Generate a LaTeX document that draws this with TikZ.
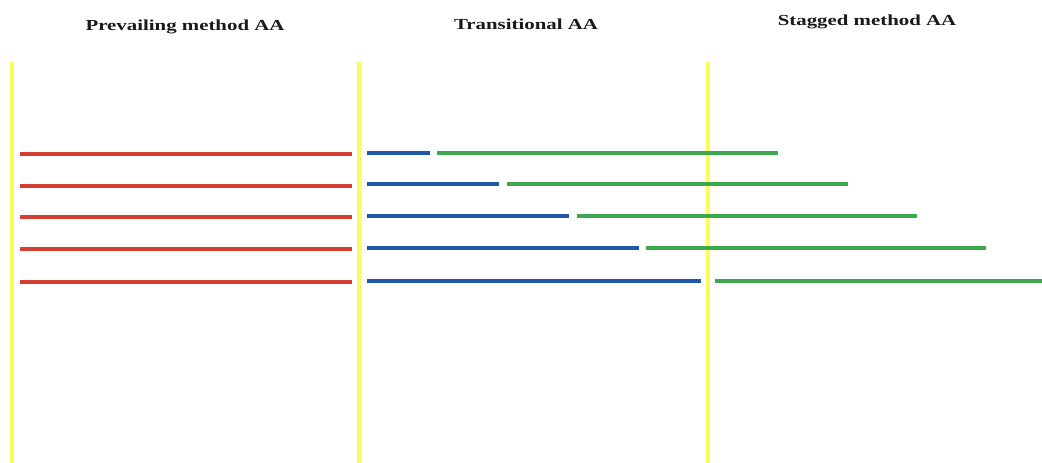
\documentclass[tikz,border=0pt]{standalone}
\usepackage{fontspec}
\setmainfont{Liberation Serif}
\definecolor{sepyellow}{RGB}{255,250,90}
\definecolor{barred}{RGB}{215,62,48}
\definecolor{barblue}{RGB}{30,88,170}
\definecolor{bargreen}{RGB}{60,170,76}
\tikzset{
  sep/.style={draw=sepyellow, line width=2.4pt},
  redbar/.style={draw=barred, line width=3pt},
  bluebar/.style={draw=barblue, line width=3pt},
  greenbar/.style={draw=bargreen, line width=2.8pt},
  title/.style={font=\bfseries\fontsize{11.5}{13}\selectfont, text=black!90, xscale=1.36, inner sep=0pt}
}
\begin{document}
\begin{tikzpicture}[x=0.75pt,y=-0.75pt]
\useasboundingbox[fill=white] (0,0) rectangle (1042,463);
% titles
\node[title] (t1) at (185,27) {Prevailing method AA};
\node[title] (t2) at (526,24) {Transitional AA};
\node[title] (t3) at (867,22) {Stagged method AA};
% separators
\draw[sep] (12,62) -- (12,463);
\draw[sep] (359,62) -- (359,463);
\draw[sep] (708,62) -- (708,463);
% red bars
\foreach \y in {154,186,217,249,282} \draw[redbar] (20,\y) -- (352,\y);
% blue and green bars
\foreach \y/\be/\gs/\ge in {153/430/437/778, 184/499/507/848, 216/569/577/917, 248/639/646/986, 281/701/715/1042}{
  \draw[bluebar] (367,\y) -- (\be,\y);
  \draw[greenbar] (\gs,\y) -- (\ge,\y);
}
\end{tikzpicture}
\end{document}
